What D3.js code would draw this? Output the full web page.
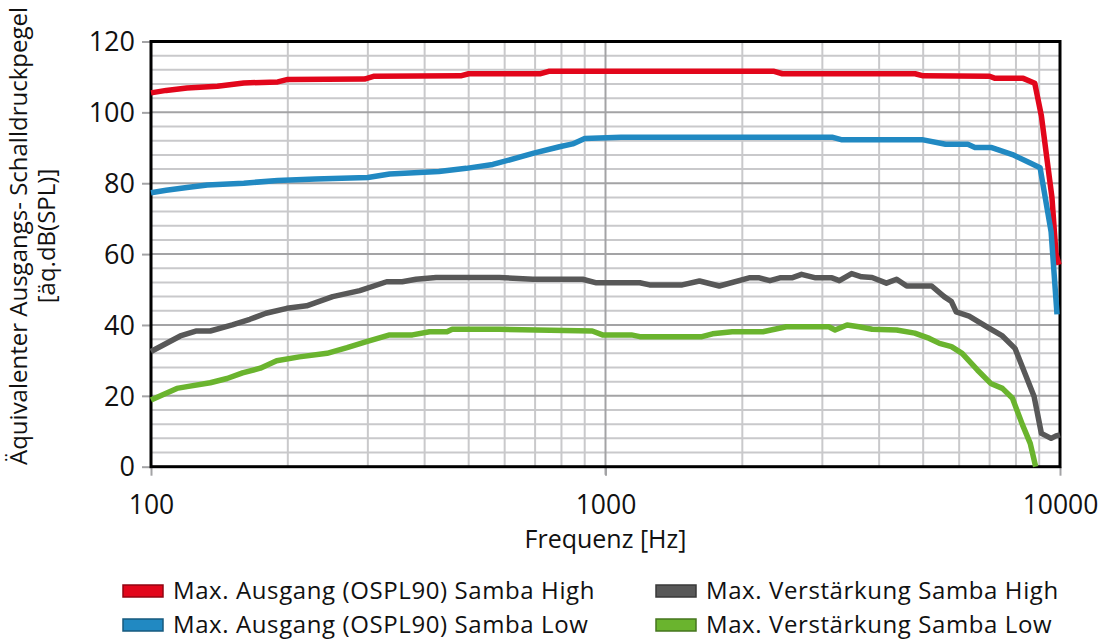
<!DOCTYPE html>
<html>
<head>
<meta charset="utf-8">
<script src="https://cdn.jsdelivr.net/npm/d3@7"></script>
<style>
  body { margin: 0; background: #fff; }
  text { font-family: "Open Sans", sans-serif; fill: #111; }
</style>
</head>
<body>
<svg id="chart" width="1104" height="642"></svg>
<script>
// frequencies (Hz) and levels
const highOutFreq = [100, 108, 120, 140, 160, 190, 200, 295, 310, 480, 500, 720, 750, 2350, 2450, 4800, 5000, 7000, 7200, 8300, 8800, 9100, 9600, 9800, 9950];
const highOutVal  = [105.5, 106.2, 106.9, 107.4, 108.3, 108.6, 109.3, 109.4, 110.2, 110.3, 110.9, 110.9, 111.6, 111.6, 110.9, 110.9, 110.3, 110.2, 109.6, 109.6, 108.2, 99, 76, 60, 57];

const lowOutFreq = [100, 108, 120, 133, 160, 190, 230, 300, 335, 430, 494, 565, 692, 792, 847, 900, 1082, 3150, 3300, 4970, 5600, 6270, 6500, 7050, 7860, 8600, 9040, 9560, 9850];
const lowOutVal  = [77.3, 78, 78.8, 79.5, 80, 80.8, 81.2, 81.6, 82.6, 83.3, 84.2, 85.3, 88.4, 90.3, 91.1, 92.6, 93, 93, 92.3, 92.3, 91, 91, 90.1, 90.1, 88.1, 85.7, 84.4, 66.3, 43];

const highGainFreq = [100, 116, 126, 135, 151, 165, 179, 199, 220, 251, 288, 330, 357, 383, 424, 584, 692, 891, 955, 1190, 1250, 1475, 1610, 1780, 2070, 2180, 2300, 2420, 2570, 2700, 2900, 3150, 3270, 3480, 3660, 3860, 4150, 4370, 4600, 5220, 5560, 5770, 5910, 6310, 6980, 7470, 7960, 8370, 8770, 9100, 9560, 9800, 10000];
const highGainVal  = [32.5, 36.9, 38.3, 38.3, 40, 41.6, 43.3, 44.7, 45.4, 48, 49.7, 52.2, 52.2, 52.9, 53.4, 53.4, 52.9, 52.9, 51.9, 51.9, 51.3, 51.3, 52.4, 51, 53.3, 53.3, 52.5, 53.3, 53.3, 54.3, 53.3, 53.3, 52.5, 54.5, 53.6, 53.4, 51.8, 52.9, 51, 51, 48, 46.6, 43.7, 42.5, 39.1, 36.9, 33.4, 26.4, 19.8, 9.4, 8, 8.7, 9];

const lowGainFreq = [100, 114, 120, 135, 147, 159, 174, 189, 212, 244, 270, 298, 335, 376, 410, 448, 460, 584, 935, 985, 1140, 1190, 1630, 1720, 1900, 2220, 2500, 3100, 3200, 3400, 3610, 3860, 4370, 4790, 5160, 5430, 5770, 6090, 6580, 7040, 7470, 7860, 8270, 8600, 8840];
const lowGainVal  = [18.8, 22.1, 22.6, 23.7, 24.9, 26.5, 27.8, 29.9, 31, 32, 33.6, 35.3, 37.2, 37.2, 38.1, 38.1, 38.8, 38.8, 38.3, 37.2, 37.2, 36.7, 36.7, 37.5, 38.1, 38.1, 39.5, 39.5, 38.6, 40, 39.5, 38.8, 38.6, 37.7, 36.2, 34.8, 33.9, 32, 27.3, 23.5, 22.1, 19.3, 11.8, 6.6, 0];

const seriesNames  = ["Max. Ausgang (OSPL90) Samba High", "Max. Ausgang (OSPL90) Samba Low", "Max. Verstärkung Samba High", "Max. Verstärkung Samba Low"];
const seriesColors = ["#e2061b", "#2189c2", "#585858", "#6ab42e"];
const yTicks = [0, 20, 40, 60, 80, 100, 120];
const xTicks = [100, 1000, 10000];

const series = [
  highOutFreq.map((f, i) => ({f, v: highOutVal[i]})),
  lowOutFreq.map((f, i) => ({f, v: lowOutVal[i]})),
  highGainFreq.map((f, i) => ({f, v: highGainVal[i]})),
  lowGainFreq.map((f, i) => ({f, v: lowGainVal[i]}))
];

const svg = d3.select("#chart");
const plotL = 151, plotR = 1060, plotT = 41.5, plotB = 466.7;

const x = d3.scaleLog().domain([100, 10000]).range([plotL, plotR]);
const y = d3.scaleLinear().domain([0, 120]).range([plotB, plotT]);

// grid
const grid = svg.append("g");
const minorY = d3.range(4, 120, 4).filter(d => d % 20 !== 0);
grid.selectAll(".hy").data(minorY).join("line")
  .attr("x1", plotL).attr("x2", plotR)
  .attr("y1", d => y(d)).attr("y2", d => y(d))
  .attr("stroke", "#c9c9cb").attr("stroke-width", 2);
const minorX = [200, 300, 400, 500, 600, 700, 800, 900, 2000, 3000, 4000, 5000, 6000, 7000, 8000, 9000];
grid.selectAll(".vx").data(minorX).join("line")
  .attr("x1", d => x(d)).attr("x2", d => x(d))
  .attr("y1", plotT).attr("y2", plotB)
  .attr("stroke", "#c9c9cb").attr("stroke-width", 2);
grid.selectAll(".my").data(yTicks.filter(d => d > 0 && d < 120)).join("line")
  .attr("x1", plotL).attr("x2", plotR)
  .attr("y1", d => y(d)).attr("y2", d => y(d))
  .attr("stroke", "#a3a3a5").attr("stroke-width", 2);
grid.append("line")
  .attr("x1", x(1000)).attr("x2", x(1000))
  .attr("y1", plotT).attr("y2", plotB + 8)
  .attr("stroke", "#a3a3a5").attr("stroke-width", 2);

// axes
const yAxis = svg.append("g")
  .attr("transform", `translate(${plotL},0)`)
  .call(d3.axisLeft(y).tickValues(yTicks).tickSize(9).tickPadding(7));
yAxis.select(".domain").remove();
yAxis.selectAll("line").attr("stroke", "#a3a3a5").attr("stroke-width", 2);
yAxis.selectAll("text").style("font-size", "27px").attr("fill", "#111").attr("dy", "0.34em");

const xAxis = svg.append("g")
  .attr("transform", `translate(0,${plotB})`)
  .call(d3.axisBottom(x).tickValues(xTicks).tickFormat(d3.format("d")).tickSize(9).tickPadding(19));
xAxis.select(".domain").remove();
xAxis.selectAll("line").attr("stroke", "#a3a3a5").attr("stroke-width", 2);
xAxis.selectAll("text").style("font-size", "26.5px").attr("fill", "#111");

// frame
svg.append("rect")
  .attr("x", plotL).attr("y", plotT)
  .attr("width", plotR - plotL).attr("height", plotB - plotT)
  .attr("fill", "none").attr("stroke", "#000").attr("stroke-width", 3);

// lines
const line = d3.line().x(d => x(d.f)).y(d => y(d.v));
svg.append("g").selectAll("path").data(series).join("path")
  .attr("d", line)
  .attr("fill", "none")
  .attr("stroke", (d, i) => seriesColors[i])
  .attr("stroke-width", 5.5)
  .attr("stroke-linejoin", "round");

// axis titles
svg.append("text")
  .attr("x", x(1000)).attr("y", 548)
  .attr("text-anchor", "middle")
  .style("font-size", "25px")
  .text("Frequenz [Hz]");

const yt = svg.append("text")
  .attr("transform", "translate(0,236) rotate(-90)")
  .attr("text-anchor", "middle")
  .style("font-size", "24px");
yt.append("tspan").attr("x", 0).attr("y", 27).text("Äquivalenter Ausgangs- Schalldruckpegel");
yt.append("tspan").attr("x", 0).attr("y", 55).text("[äq.dB(SPL)]");

// legend
const legPos = [[123, 591], [123, 625], [656, 591], [656, 625]];
const leg = svg.append("g").selectAll("g").data(seriesNames).join("g")
  .attr("transform", (d, i) => `translate(${legPos[i][0]},${legPos[i][1]})`);
leg.append("rect")
  .attr("x", 0).attr("y", -6).attr("width", 40).attr("height", 12)
  .attr("fill", (d, i) => seriesColors[i])
  .attr("stroke", (d, i) => d3.color(seriesColors[i]).darker(1.2))
  .attr("stroke-width", 1.5);
leg.append("text")
  .attr("x", 50).attr("y", 0).attr("dy", "0.34em")
  .style("font-size", "24px")
  .style("letter-spacing", "0.6px")
  .text(d => d);
</script>
</body>
</html>
